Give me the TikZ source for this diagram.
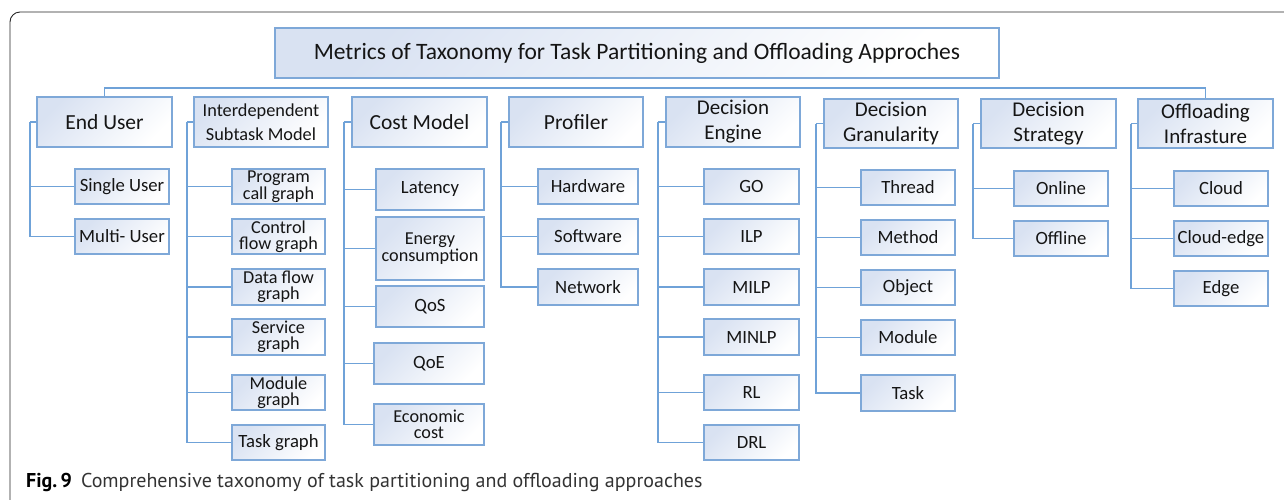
\documentclass[tikz,border=0pt]{standalone}
\usepackage{fontspec}
\setmainfont{Carlito}
\newfontfamily\capfont{PT Sans}
\definecolor{boxline}{HTML}{7EA8D8}
\definecolor{connline}{HTML}{6FA2D8}
\definecolor{boxtint}{HTML}{D9E2F2}
\definecolor{inktext}{HTML}{151515}
\tikzset{
  tbox/.style={draw=boxline, line width=1.2pt, inner sep=0pt, align=center,
    text=inktext, top color=boxtint, bottom color=white, shading angle=45},
  hdr/.style={tbox, font=\fontsize{21.5}{25}\selectfont},
  hdrtwo/.style={tbox, font=\fontsize{21}{25}\selectfont},
  leaf/.style={tbox, font=\fontsize{18.7}{20}\selectfont},
  leaftwo/.style={tbox, font=\fontsize{18.2}{16.5}\selectfont},
  conn/.style={draw=connline, line width=1.1pt},
  frame/.style={draw=black!85, line width=0.9pt, rounded corners=10pt}
}
\newcommand{\bx}[7]{% style, name, x1, y1, x2, y2, text
  \node[#1, minimum width={#5-#3}, minimum height={#6-#4}] (#2) at ({(#3+#5)/2},{(#4+#6)/2}) {#7};}
\begin{document}
\begin{tikzpicture}[x=1pt,y=-1pt]
\useasboundingbox (0,0) rectangle (1284,499);
% outer frame, open towards the right and bottom
\draw[frame] (10,520) -- (10,12) -- (1310,12);

% title
\bx{tbox, font=\fontsize{23.5}{26}\selectfont}{title}{275}{28}{999}{78}{Metrics of Taxonomy for Task Partitioning and Offloading Approches}

% category headers
\bx{hdr}{eu}{37}{97}{172}{147}{End User}
\bx{tbox, font=\fontsize{18.3}{24}\selectfont}{ism}{194}{97}{328}{147}{Interdependent\\Subtask Model}
\bx{hdr}{cm}{352}{97}{487}{147}{Cost Model}
\bx{hdr}{pr}{509}{97}{643}{147}{Profiler}
\bx{hdrtwo}{de}{666}{97}{800}{147}{Decision\\Engine}
\bx{hdrtwo}{dg}{824}{99}{958}{148}{Decision\\Granularity}
\bx{hdrtwo}{ds}{981}{99}{1116}{148}{Decision\\Strategy}
\bx{hdrtwo}{oi}{1138}{99}{1273}{148}{Offloading\\Infrasture}

% bracket joining the first and last header
\draw[conn] (eu.north) -- (104.5,88) -| (oi.north);

% End User
\bx{leaf}{eu1}{75}{169}{169}{204}{Single User}
\bx{leaf}{eu2}{75}{219}{169}{254}{Multi- User}
\coordinate (eut) at (30,122);
\draw[conn] (eu.west) -- (eut);
\foreach \c in {eu1,eu2} \draw[conn] (eut) |- (\c.west);

% Interdependent Subtask Model
\bx{leaftwo}{ism1}{232}{169}{325}{204}{Program\\call graph}
\bx{leaftwo}{ism2}{232}{219}{325}{254}{Control\\flow graph}
\bx{leaftwo}{ism3}{232}{269}{325}{305}{Data flow\\graph}
\bx{leaftwo}{ism4}{232}{319}{325}{355}{Service\\graph}
\bx{leaftwo}{ism5}{232}{375}{325}{410}{Module\\graph}
\bx{leaf}{ism6}{232}{425}{325}{460}{Task graph}
\coordinate (ismt) at (187,122);
\draw[conn] (ism.west) -- (ismt);
\foreach \c in {ism1,ism2,ism3,ism4,ism5,ism6} \draw[conn] (ismt) |- (\c.west);

% Cost Model
\bx{leaf}{cm1}{376}{169}{484}{210}{Latency}
\bx{leaftwo}{cm2}{376}{217}{484}{280}{Energy\\consumption}
\bx{leaf}{cm3}{376}{286}{484}{327}{QoS}
\bx{leaf}{cm4}{374}{343}{484}{384}{QoE}
\bx{leaftwo}{cm5}{374}{404}{484}{445}{Economic\\cost}
\coordinate (cmt) at (344,122);
\draw[conn] (cm.west) -- (cmt);
\foreach \c in {cm1,cm2,cm3,cm4,cm5} \draw[conn] (cmt) |- (\c.west);

% Profiler
\bx{leaf}{pr1}{538}{169}{638}{204}{Hardware}
\bx{leaf}{pr2}{538}{219}{638}{254}{Software}
\bx{leaf}{pr3}{538}{269}{638}{305}{Network}
\coordinate (prt) at (501,122);
\draw[conn] (pr.west) -- (prt);
\foreach \c in {pr1,pr2,pr3} \draw[conn] (prt) |- (\c.west);

% Decision Engine
\bx{leaf}{de1}{704}{169}{799}{204}{GO}
\bx{leaf}{de2}{704}{219}{799}{254}{ILP}
\bx{leaf}{de3}{704}{269}{799}{305}{MILP}
\bx{leaf}{de4}{704}{319}{799}{355}{MINLP}
\bx{leaf}{de5}{704}{375}{799}{410}{RL}
\bx{leaf}{de6}{704}{425}{799}{460}{DRL}
\coordinate (det) at (658,122);
\draw[conn] (de.west) -- (det);
\foreach \c in {de1,de2,de3,de4,de5,de6} \draw[conn] (det) |- (\c.west);

% Decision Granularity
\bx{leaf}{dg1}{861}{170}{955}{205}{Thread}
\bx{leaf}{dg2}{861}{220}{955}{255}{Method}
\bx{leaf}{dg3}{861}{270}{955}{305}{Object}
\bx{leaf}{dg4}{861}{320}{955}{355}{Module}
\bx{leaf}{dg5}{861}{375}{955}{411}{Task}
\coordinate (dgt) at (816,123.5);
\draw[conn] (dg.west) -- (dgt);
\foreach \c in {dg1,dg2,dg3,dg4,dg5} \draw[conn] (dgt) |- (\c.west);

% Decision Strategy
\bx{leaf}{ds1}{1014}{171}{1108}{206}{Online}
\bx{leaf}{ds2}{1014}{221}{1108}{256}{Offline}
\coordinate (dst) at (973,123.5);
\draw[conn] (ds.west) -- (dst);
\foreach \c in {ds1,ds2} \draw[conn] (dst) |- (\c.west);

% Offloading Infrastructure
\bx{leaf}{oi1}{1174}{171}{1268}{206}{Cloud}
\bx{leaf}{oi2}{1174}{221}{1268}{256}{Cloud-edge}
\bx{leaf}{oi3}{1174}{271}{1268}{306}{Edge}
\coordinate (oit) at (1131,123.5);
\draw[conn] (oi.west) -- (oit);
\foreach \c in {oi1,oi2,oi3} \draw[conn] (oit) |- (\c.west);

% caption
\node[anchor=base west, inner sep=0pt, font=\capfont\fontsize{20}{22}\selectfont, text=black!80] (cap) at (26,487)
  {\textbf{\color{black}Fig.\,9}\hspace{9pt}Comprehensive taxonomy of task partitioning and offloading approaches};
\end{tikzpicture}
\end{document}
